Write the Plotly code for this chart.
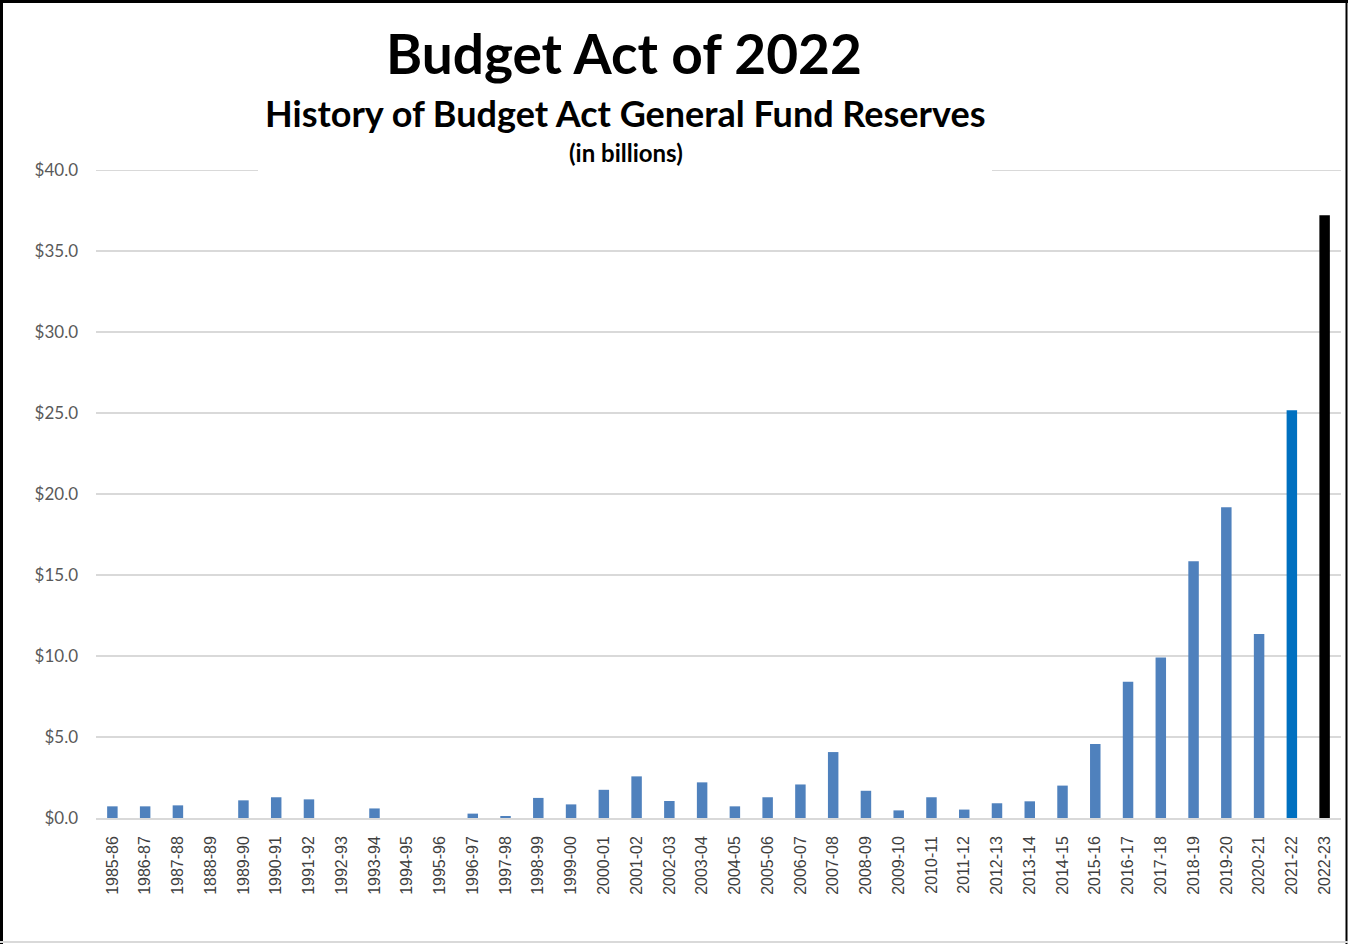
import plotly.graph_objects as go

# ---- data ----
years = ["1985-86", "1986-87", "1987-88", "1888-89", "1989-90", "1990-91", "1991-92",
         "1992-93", "1993-94", "1994-95", "1995-96", "1996-97", "1997-98", "1998-99",
         "1999-00", "2000-01", "2001-02", "2002-03", "2003-04", "2004-05", "2005-06",
         "2006-07", "2007-08", "2008-09", "2009-10", "2010-11", "2011-12", "2012-13",
         "2013-14", "2014-15", "2015-16", "2016-17", "2017-18", "2018-19", "2019-20",
         "2020-21", "2021-22", "2022-23"]
reserves = [0.72, 0.72, 0.78, 0.0, 1.09, 1.28, 1.15,
            0.0, 0.59, 0.0, 0.0, 0.27, 0.1, 1.24,
            0.84, 1.74, 2.57, 1.05, 2.2, 0.72, 1.28,
            2.07, 4.07, 1.68, 0.47, 1.28, 0.52, 0.91,
            1.03, 2.0, 4.57, 8.41, 9.9, 15.85, 19.18,
            11.36, 25.17, 37.2]
y_ticks = [0, 5, 10, 15, 20, 25, 30, 35, 40]
y_tick_text = ["$0.0", "$5.0", "$10.0", "$15.0", "$20.0", "$25.0", "$30.0", "$35.0", "$40.0"]

BASE = "#4F81BD"
colors = [BASE] * len(years)
colors[-2] = "#0070C0"
colors[-1] = "#000000"

# ---- layout geometry ----
W, H = 1348, 944
L, R, T, B = 96, 7, 170, 126
PW, PH = W - L - R, H - T - B

def px_x(p):
    return (p - L) / PW

def px_y(p):
    return (H - B - p) / PH

fig = go.Figure(go.Bar(x=years, y=reserves, marker=dict(color=colors, line=dict(width=0)),
                       hoverinfo="x+y"))

font_title = "Lato, 'Open Sans', sans-serif"

annotations = [
    dict(text="<b>Budget Act of 2022</b>", x=px_x(624), y=px_y(53), xref="paper", yref="paper",
         xanchor="center", yanchor="middle", showarrow=False,
         font=dict(family=font_title, size=55, color="#000000")),
    dict(text="<b>History of Budget Act General Fund Reserves</b>", x=px_x(624.5), y=px_y(113),
         xref="paper", yref="paper", xanchor="center", yanchor="middle", showarrow=False,
         font=dict(family=font_title, size=36, color="#000000")),
    dict(text="<b>(in billions)</b>", x=px_x(625.5), y=px_y(152), xref="paper", yref="paper",
         xanchor="center", yanchor="middle", showarrow=False,
         font=dict(family=font_title, size=24, color="#000000")),
]

shapes = [
    # top gridline (drawn explicitly so it is visible at the range edge)
    dict(type="line", xref="paper", yref="y", x0=0, x1=1, y0=40, y1=40,
         line=dict(color="#D9D9D9", width=2), layer="below"),
    # white box behind title, hiding part of the top gridline
    dict(type="rect", xref="paper", yref="paper", x0=px_x(258), x1=px_x(992),
         y0=px_y(175), y1=px_y(20), fillcolor="white", line=dict(width=0), layer="above"),
    # outer frame
    dict(type="line", xref="paper", yref="paper", x0=px_x(1.5), x1=px_x(1.5),
         y0=px_y(0), y1=px_y(944), line=dict(color="black", width=3)),
    dict(type="line", xref="paper", yref="paper", x0=px_x(0), x1=px_x(1348),
         y0=px_y(1.5), y1=px_y(1.5), line=dict(color="black", width=3)),
    dict(type="line", xref="paper", yref="paper", x0=px_x(1346.5), x1=px_x(1346.5),
         y0=px_y(0), y1=px_y(944), line=dict(color="black", width=2)),
    dict(type="line", xref="paper", yref="paper", x0=px_x(0), x1=px_x(1348),
         y0=px_y(942), y1=px_y(942), line=dict(color="#D9D9D9", width=2)),
]

fig.update_layout(
    width=W, height=H,
    margin=dict(l=L, r=R, t=T, b=B, pad=0),
    paper_bgcolor="white", plot_bgcolor="white",
    bargap=0.68,
    showlegend=False,
    annotations=annotations,
    shapes=shapes,
    xaxis=dict(type="category", tickangle=-90, showgrid=False, showline=True,
               linecolor="#D9D9D9", linewidth=1.5, ticks="", ticklabelstandoff=10,
               tickfont=dict(family="'Liberation Sans', Arial, sans-serif", size=16,
                             color="#404040"),
               fixedrange=True),
    yaxis=dict(range=[0, 40], tickvals=y_ticks, ticktext=y_tick_text, showgrid=True,
               gridcolor="#D9D9D9", gridwidth=1.5, zeroline=False, showline=False,
               ticks="", ticklabelstandoff=17,
               tickfont=dict(family="Lato, 'Open Sans', sans-serif", size=17, color="#595959"),
               fixedrange=True),
)

fig.write_html("out.html", config={"displayModeBar": False},
               post_script="document.body.style.margin='0';")
